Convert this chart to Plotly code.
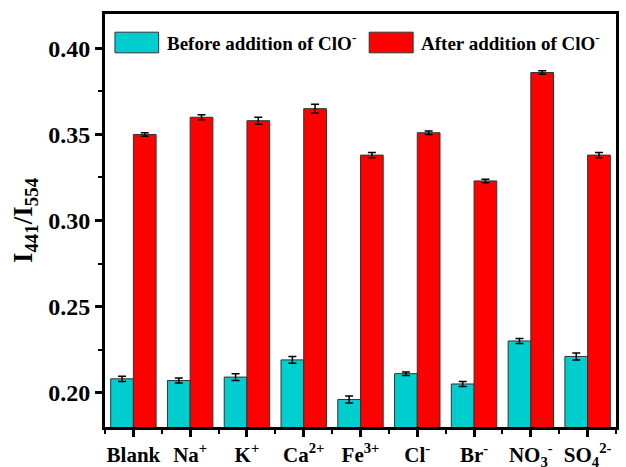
import plotly.graph_objects as go

categories = ["Blank", "Na<sup>+</sup>", "K<sup>+</sup>", "Ca<sup>2+</sup>", "Fe<sup>3+</sup>",
              "Cl<sup>-</sup>", "Br<sup>-</sup>", "NO<sub>3</sub><sup>-</sup>", "SO<sub>4</sub><sup>2-</sup>"]
before_vals = [0.208, 0.207, 0.209, 0.219, 0.196, 0.211, 0.205, 0.230, 0.221]
before_err = [0.0015, 0.0015, 0.002, 0.002, 0.002, 0.001, 0.0015, 0.0015, 0.002]
after_vals = [0.350, 0.360, 0.358, 0.365, 0.338, 0.351, 0.323, 0.386, 0.338]
after_err = [0.001, 0.0015, 0.002, 0.0025, 0.0015, 0.001, 0.001, 0.001, 0.0015]
series_names = ["Before addition of ClO<sup>-</sup>", "After addition of ClO<sup>-</sup>"]
series_colors = ["#00CDCD", "#FF0000"]
y_ticks = [0.20, 0.25, 0.30, 0.35, 0.40]
y_title = "I<sub>441</sub>/I<sub>554</sub>"

FONT = "Liberation Serif"
xs = list(range(len(categories)))

fig = go.Figure()
for vals, errs, name, color in [(before_vals, before_err, series_names[0], series_colors[0]),
                                (after_vals, after_err, series_names[1], series_colors[1])]:
    fig.add_trace(go.Bar(
        x=xs, y=vals, name=name, showlegend=False,
        marker=dict(color=color, line=dict(color="#333333", width=1)),
        error_y=dict(type="data", array=errs, color="black", thickness=1.5, width=4),
    ))

# legend drawn manually with large swatches
legend_items = [(0.0195, 0.105, 0.117), (0.517, 0.603, 0.615)]
for (x0, x1, xt), name, color in zip(legend_items, series_names, series_colors):
    fig.add_shape(type="rect", xref="paper", yref="paper", x0=x0, x1=x1, y0=0.906, y1=0.956,
                  fillcolor=color, line=dict(color="#333333", width=1))
    fig.add_annotation(xref="paper", yref="paper", x=xt, y=0.931, text=name, showarrow=False,
                       xanchor="left", yanchor="middle",
                       font=dict(family=FONT, size=19, color="black", weight="bold"))

fig.update_layout(
    width=626, height=467,
    margin=dict(l=105, r=10, t=14, b=40),
    paper_bgcolor="white", plot_bgcolor="white",
    barmode="group", bargap=0.2, bargroupgap=0,
    font=dict(family=FONT, color="black", size=19, weight="bold"),
)
fig.update_xaxes(
    range=[-0.5, 8.5], tickvals=xs, ticktext=categories, automargin=False,
    showline=True, mirror=True, linecolor="black", linewidth=3,
    ticks="outside", ticklen=7, tickwidth=2.5, tickcolor="black",
    minor=dict(ticks="outside", ticklen=4, tickwidth=2, tickcolor="black", tick0=-0.5, dtick=1),
    tickfont=dict(family=FONT, size=21, color="black", weight="bold"),
    showgrid=False, zeroline=False,
)
fig.update_yaxes(
    range=[0.18, 0.42], tickvals=y_ticks, ticktext=["%.2f" % v for v in y_ticks], automargin=False,
    showline=True, mirror=True, linecolor="black", linewidth=3,
    ticks="outside", ticklen=7, tickwidth=2.5, tickcolor="black",
    minor=dict(ticks="outside", ticklen=4, tickwidth=2, tickcolor="black", tick0=0.175, dtick=0.05),
    tickfont=dict(family=FONT, size=24, color="black", weight="bold"),
    title=dict(text=y_title, font=dict(family=FONT, size=27, color="black", weight="bold"), standoff=8),
    showgrid=False, zeroline=False,
)

fig.write_html("out.html")
